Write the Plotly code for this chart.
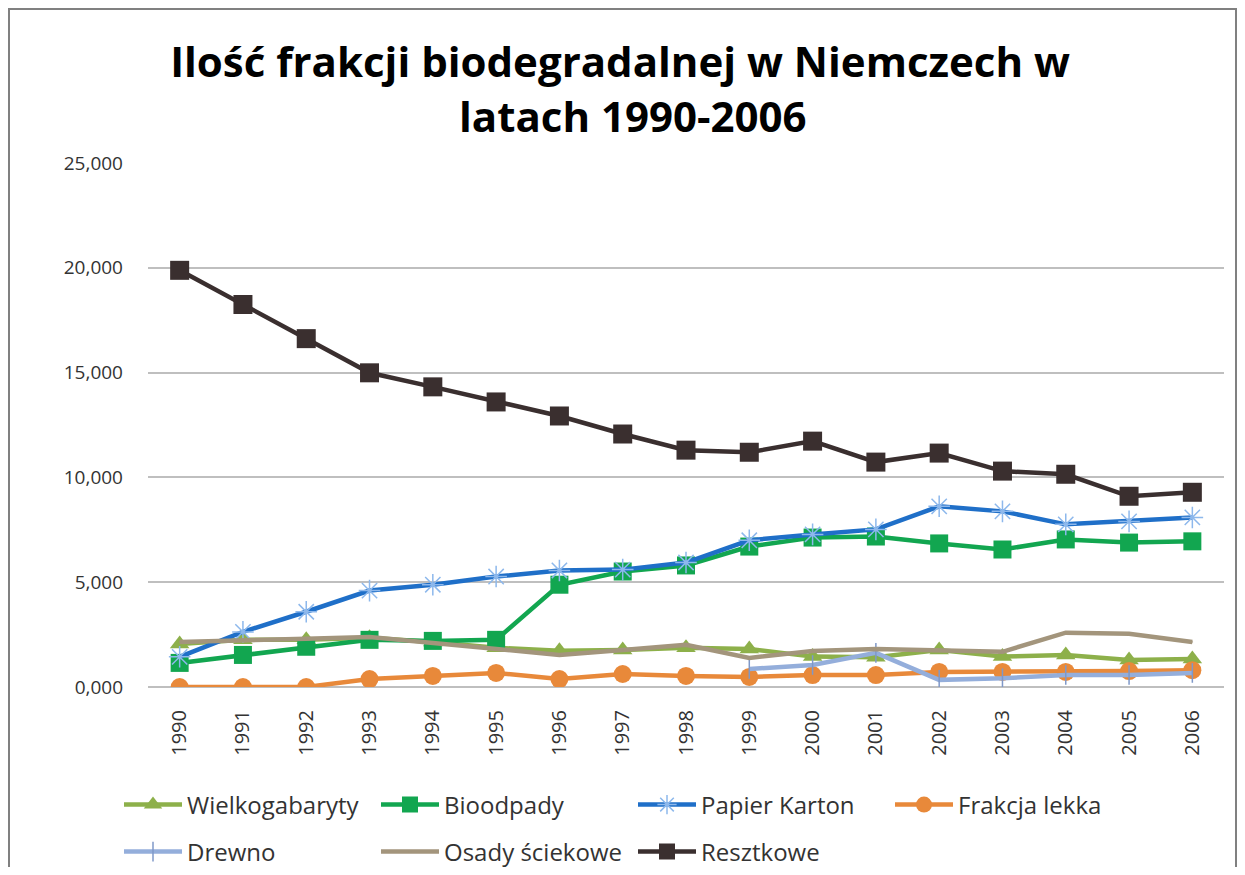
import plotly.graph_objects as go

years = [str(y) for y in range(1990, 2007)]

wielkogabaryty = [2050, 2250, 2250, 2350, 2150, 1870, 1730, 1770, 1870, 1810, 1450, 1420, 1770, 1450, 1530, 1290, 1340]
bioodpady = [1150, 1530, 1920, 2250, 2200, 2250, 4880, 5510, 5800, 6700, 7130, 7180, 6850, 6560, 7040, 6890, 6950]
papier_karton = [1440, 2630, 3590, 4600, 4880, 5270, 5560, 5600, 5940, 7000, 7280, 7520, 8620, 8380, 7760, 7900, 8090]
frakcja_lekka = [0, 0, 0, 380, 530, 670, 380, 620, 530, 480, 570, 570, 720, 720, 720, 760, 800]
drewno = [None, None, None, None, None, None, None, None, None, 860, 1050, 1630, 340, 420, 570, 570, 670]
osady_sciekowe = [2150, 2250, 2300, 2390, 2110, 1820, 1530, 1770, 2010, 1390, 1720, 1810, 1720, 1680, 2590, 2540, 2150]
resztkowe = [19880, 18250, 16620, 14990, 14320, 13600, 12930, 12070, 11300, 11200, 11730, 10730, 11160, 10300, 10150, 9100, 9290]

y_tickvals = [0, 5000, 10000, 15000, 20000, 25000]
y_ticktext = ["0,000", "5,000", "10,000", "15,000", "20,000", "25,000"]

title_line1 = "Ilość frakcji biodegradalnej w Niemczech w"
title_line2 = "latach 1990-2006"

FONT = "Open Sans"

series = [
    ("Wielkogabaryty", wielkogabaryty, "#8DB04A", dict(symbol="triangle-up", size=17, color="#8DB04A"), "legend"),
    ("Bioodpady", bioodpady, "#12A650", dict(symbol="square", size=18, color="#12A650"), "legend"),
    ("Papier Karton", papier_karton, "#1F6FC8", dict(symbol="asterisk-open", size=18, color="#8DB8EC", line=dict(width=1.5, color="#8DB8EC")), "legend"),
    ("Frakcja lekka", frakcja_lekka, "#E8893A", dict(symbol="circle", size=18, color="#E8893A"), "legend"),
    ("Drewno", drewno, "#94AEDB", dict(symbol="line-ns-open", size=14, color="#7F98C8", line=dict(width=1.5, color="#7F98C8")), "legend2"),
    ("Osady ściekowe", osady_sciekowe, "#A3957C", dict(symbol="line-ew-open", size=1, color="#A3957C"), "legend2"),
    ("Resztkowe", resztkowe, "#3A2F2F", dict(symbol="square", size=19, color="#3A2F2F"), "legend2"),
]

fig = go.Figure()
for name, vals, color, marker, lg in series:
    fig.add_trace(go.Scatter(
        x=years, y=vals, name=name, mode="lines+markers",
        line=dict(color=color, width=4.5),
        marker=marker, legend=lg, connectgaps=False,
    ))

W, H = 1229, 859
L, R, T, B = 140, 13, 155, 180
pw, ph = W - L - R, H - T - B

legend_common = dict(
    orientation="h", xanchor="left", yanchor="middle",
    font=dict(family=FONT, size=24, color="#333333"),
    entrywidth=184, entrywidthmode="pixels",
    bgcolor="rgba(0,0,0,0)", itemwidth=58, traceorder="normal",
)

fig.update_layout(
    width=W, height=H,
    margin=dict(l=L, r=R, t=T, b=B, autoexpand=False),
    paper_bgcolor="white", plot_bgcolor="white",
    font=dict(family=FONT, color="#333333"),
    title=dict(text=title_line1, x=612 / W, xanchor="center", y=1 - 54 / H, yanchor="middle",
               font=dict(family=FONT, size=42, color="#000000", weight="bold")),
    annotations=[dict(text=title_line2, xref="paper", yref="paper",
                      x=(625 - L) / pw, y=(H - B - 107) / ph, xanchor="center", yanchor="middle",
                      showarrow=False, font=dict(family=FONT, size=42, color="#000000", weight="bold"))],
    xaxis=dict(type="category", range=[-0.5, 16.5], tickangle=-90, showgrid=False,
               showline=False, ticks="", ticklabelstandoff=18,
               tickfont=dict(family=FONT, size=20, color="#333333"),
               fixedrange=True),
    yaxis=dict(range=[0, 25000], tickvals=y_tickvals, ticktext=y_ticktext, showgrid=True,
               gridcolor="#BFBFBF", gridwidth=1.5, zeroline=True, zerolinecolor="#BFBFBF",
               zerolinewidth=1.5, showline=False, ticks="", ticklabelstandoff=24,
               tickfont=dict(family=FONT, size=19, color="#333333")),
    legend=dict(x=(111 - L) / pw, y=(H - B - 797) / ph, **legend_common),
    legend2=dict(x=(111 - L) / pw, y=(H - B - 844) / ph, **legend_common),
    shapes=[dict(type="rect", xref="paper", yref="paper",
                 x0=-(L - 1) / pw, x1=1 + (R - 1) / pw, y0=-(B + 20) / ph, y1=1 + (T - 1) / ph,
                 line=dict(color="#808080", width=2), fillcolor="rgba(0,0,0,0)", layer="below")],
)

fig.write_html("out.html")
